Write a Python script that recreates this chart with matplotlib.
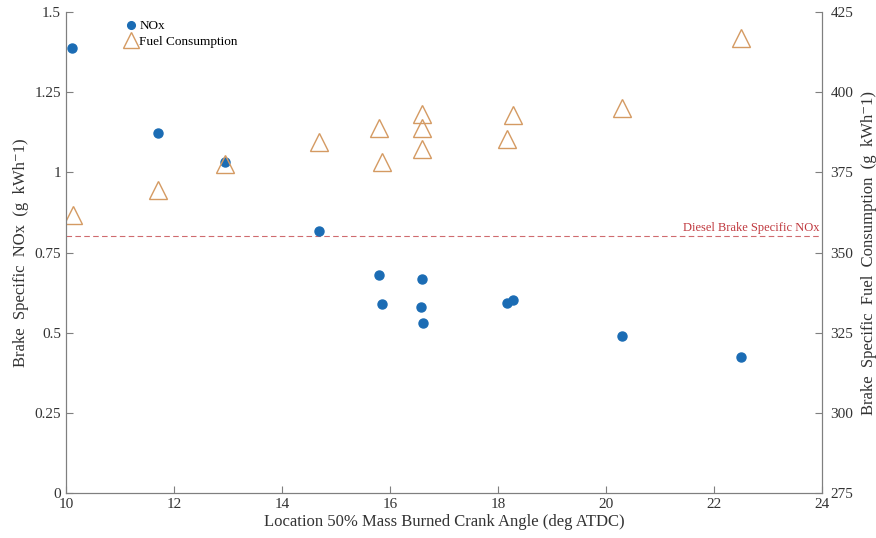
import matplotlib.pyplot as plt

plt.rcParams['font.family'] = ['Liberation Serif', 'DejaVu Serif']

# combustion phasing (CA50) for each run
ca50_nox = [10.11, 11.71, 12.95, 14.69, 15.80, 15.86, 16.59, 16.57, 16.62, 18.16, 18.27, 20.30, 22.50]
bs_nox = [1.388, 1.123, 1.032, 0.817, 0.680, 0.589, 0.667, 0.580, 0.530, 0.592, 0.602, 0.490, 0.424]

ca50_fuel = [10.13, 11.71, 12.95, 14.69, 15.80, 15.86, 16.59, 16.59, 16.59, 18.16, 18.27, 20.30, 22.50]
bsfc = [361.7, 369.5, 377.6, 384.4, 388.8, 378.2, 393.2, 388.8, 382.3, 385.4, 392.9, 395.0, 416.9]

diesel_nox = 0.8

blue = '#1b6cb4'
tan = '#d49a62'
red = '#c0393f'
grey = '#7f7f7f'

fig = plt.figure(figsize=(8.76, 5.38), dpi=100)
ax = fig.add_axes([0.0753, 0.0836, 0.8630, 0.8941])
ax2 = ax.twinx()

ax.plot(ca50_nox, bs_nox, 'o', color=blue, ms=6.5, mec=blue, label='NOx', zorder=3)
ax2.plot(ca50_fuel, bsfc, '^', ms=13, mfc='none', mec=tan, mew=1.0,
         label='Fuel Consumption', zorder=2)

ax.axhline(diesel_nox, color=red, ls=(0, (5, 3)), lw=0.8, alpha=0.75)
ax.text(23.95, diesel_nox + 0.008, 'Diesel Brake Specific NOx', color=red,
        ha='right', va='bottom', fontsize=9)

ax.set_xlim(10, 24)
ax.set_ylim(0, 1.5)
ax2.set_ylim(275, 425)
ax.set_xticks(range(10, 25, 2))
ax.set_yticks([0, 0.25, 0.5, 0.75, 1, 1.25, 1.5])
ax.set_yticklabels(['0', '0.25', '0.5', '0.75', '1', '1.25', '1.5'])
ax2.set_yticks(range(275, 426, 25))

for a in (ax, ax2):
    a.spines['top'].set_visible(False)
    for s in a.spines.values():
        s.set_color(grey)
        s.set_linewidth(0.8)
    a.tick_params(direction='in', length=5, width=0.8, color=grey,
                  labelsize=11, labelcolor='#333333')
ax2.tick_params(pad=6)

ax.set_xlabel('Location 50% Mass Burned Crank Angle (deg ATDC)', fontsize=12, color='#333333', labelpad=2)
ax.set_ylabel('Brake  Specific  NOx  (g  kWh\u207b1)', fontsize=12, color='#333333',
              family=['Liberation Serif', 'DejaVu Serif'])
ax2.set_ylabel('Brake  Specific  Fuel  Consumption  (g  kWh\u207b1)', fontsize=12,
               color='#333333', family=['Liberation Serif', 'DejaVu Serif'], labelpad=6)

h1, l1 = ax.get_legend_handles_labels()
h2, l2 = ax2.get_legend_handles_labels()
leg = ax.legend(h1 + h2, l1 + l2, loc='upper left', bbox_to_anchor=(0.064, 1.008),
                frameon=False, fontsize=9.5, handlelength=0.8, handletextpad=0.2,
                labelspacing=0.25, markerscale=0.85)

fig.savefig('out.png', dpi=100)
